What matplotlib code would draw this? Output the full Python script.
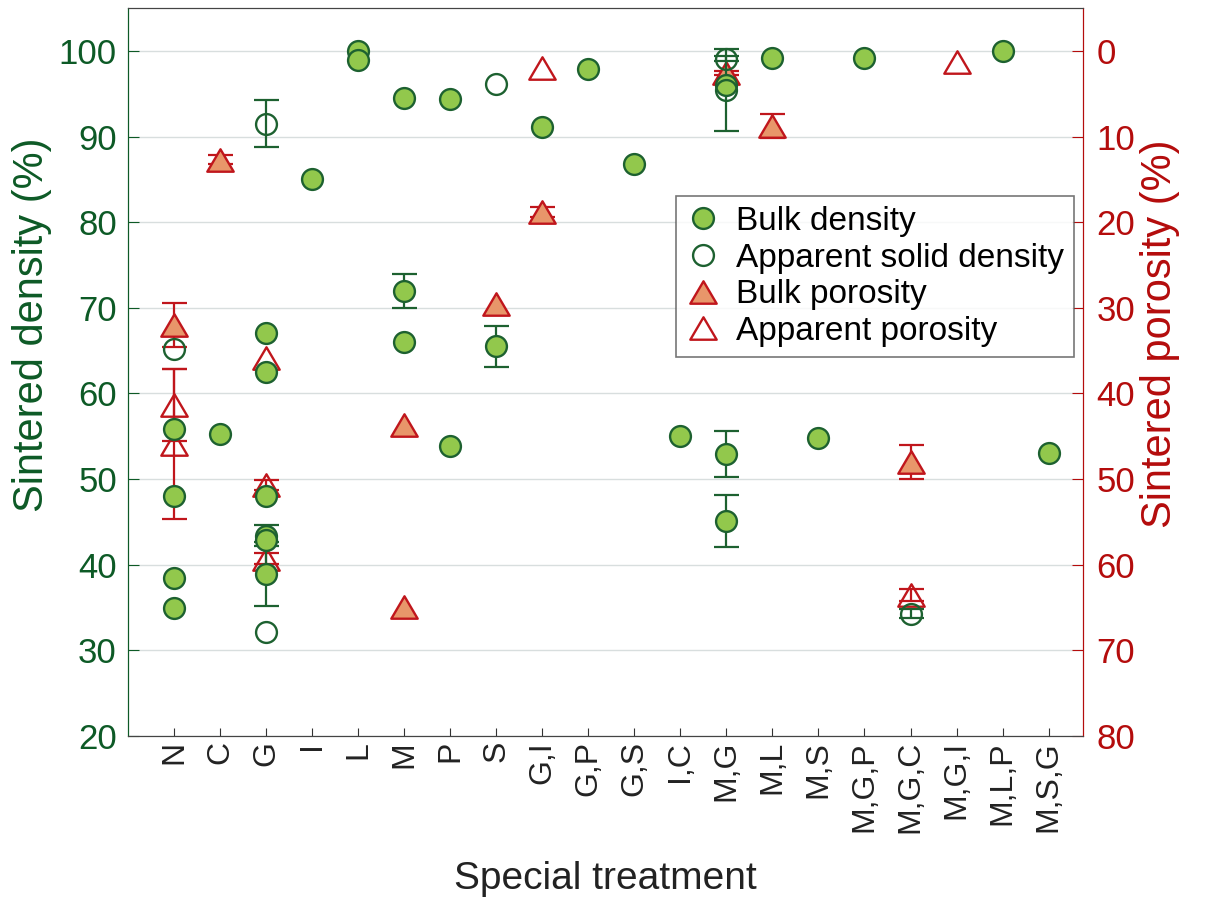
import numpy as np
import matplotlib
matplotlib.use("Agg")
import matplotlib.pyplot as plt
from matplotlib.path import Path

plt.rcParams["font.family"] = ["Liberation Sans", "DejaVu Sans"]

categories = ["N", "C", "G", "I", "L", "M", "P", "S", "G,I", "G,P", "G,S", "I,C",
              "M,G", "M,L", "M,S", "M,G,P", "M,G,C", "M,G,I", "M,L,P", "M,S,G"]

# bulk density (%), one entry per sample
bulk_dens_cat = ["N", "N", "N", "N", "C", "G", "G", "G", "G", "G", "G", "I", "L", "L",
                 "M", "M", "M", "P", "P", "S", "G,I", "G,P", "G,S", "I,C", "M,G", "M,G", "M,G",
                 "M,L", "M,S", "M,G,P", "M,L,P", "M,S,G"]
bulk_dens = [55.9, 48.0, 38.5, 35.0, 55.3, 67.1, 62.5, 48.0, 43.4, 42.9, 38.9, 85.0, 100.0, 99.0,
             94.5, 72.0, 66.0, 94.4, 53.9, 65.5, 91.1, 97.9, 86.8, 55.0, 96.0, 52.9, 45.1,
             99.2, 54.8, 99.2, 100.0, 53.0]
bulk_dens_err = [0, 0, 0, 0, 0, 0, 0, 0, 1.2, 0, 3.7, 0, 0, 0,
                 0, 2.0, 0, 0, 0, 2.4, 0, 0, 0, 0, 0, 2.7, 3.0,
                 0, 0, 0, 0, 0]

# apparent solid density (%)
app_dens_cat = ["N", "G", "G", "S", "M,G", "M,G", "M,G,C"]
app_dens = [65.2, 91.5, 32.2, 96.1, 99.1, 95.4, 34.3]
app_dens_err = [0, 2.75, 0, 0, 0.3, 4.8, 0.5]

# bulk porosity (%)
bulk_por_cat = ["N", "C", "M", "M", "S", "G,I", "M,G", "M,L", "M,G,C"]
bulk_por = [32.0, 12.7, 43.7, 64.9, 29.5, 18.8, 2.6, 8.8, 48.0]
bulk_por_err = [2.6, 0.55, 0, 0, 0, 0.6, 0.2, 1.4, 2.0]

# apparent porosity (%)
app_por_cat = ["N", "N", "G", "G", "G", "G,I", "M,G,C", "M,G,I"]
app_por = [41.3, 45.9, 35.9, 50.7, 59.3, 2.0, 63.5, 1.3]
app_por_err = [4.2, 8.75, 0, 0.6, 0.65, 0, 0.7, 0]

GREEN_TXT = "#0d5a26"
GREEN_EDGE = "#1d6130"
GREEN_FACE = "#92c84c"
RED_TXT = "#b40c0c"
RED_EDGE = "#c0161c"
ORANGE_FACE = "#e8966a"

pos = {c: i + 1 for i, c in enumerate(categories)}

# wide, slightly flat triangle
tri = Path([(0, 0.85), (-1, -0.85), (1, -0.85), (0, 0.85)],
           [Path.MOVETO, Path.LINETO, Path.LINETO, Path.CLOSEPOLY])


def draw(ax, cats, vals, errs, marker, ms, face, edge, label):
    x = np.array([pos[c] for c in cats], dtype=float)
    y = np.array(vals, dtype=float)
    e = np.array(errs, dtype=float)
    m = e > 0
    ax.errorbar(x[m], y[m], yerr=e[m], fmt="none", ecolor=edge, elinewidth=1.6,
                capsize=9, capthick=1.6, zorder=2)
    line, = ax.plot(x, y, ls="none", marker=marker, ms=ms, mfc=face, mec=edge,
                    mew=1.7, zorder=3, label=label)
    return line


fig = plt.figure(figsize=(12.07, 9.02), dpi=100)
ax = fig.add_axes([0.106, 0.184, 0.791, 0.807])
ax2 = ax.twinx()
ax.set_zorder(ax2.get_zorder() + 1)
ax.patch.set_visible(False)

h3 = draw(ax2, bulk_por_cat, bulk_por, bulk_por_err, tri, 19, ORANGE_FACE, RED_EDGE, "Bulk porosity")
h4 = draw(ax2, app_por_cat, app_por, app_por_err, tri, 19, "none", RED_EDGE, "Apparent porosity")
h1 = draw(ax, bulk_dens_cat, bulk_dens, bulk_dens_err, "o", 15, GREEN_FACE, GREEN_EDGE, "Bulk density")
h2 = draw(ax, app_dens_cat, app_dens, app_dens_err, "o", 15, "none", GREEN_EDGE, "Apparent solid density")

ax.set_xlim(0, 20.74)
ax.set_ylim(20, 105)
ax2.set_ylim(80, -5)
ax.set_yticks(np.arange(20, 101, 10))
ax2.set_yticks(np.arange(0, 81, 10))
ax.set_xticks(np.arange(1, len(categories) + 1))
ax.set_xticklabels(categories, rotation=90, fontsize=23, color="#222222")

ax2.grid(True, color="#d8dede", lw=1.0)
ax2.set_axisbelow(True)

ax.tick_params(axis="y", direction="in", length=8, colors=GREEN_TXT, labelsize=25, pad=8)
ax2.tick_params(axis="y", direction="in", length=8, colors=RED_TXT, labelsize=25, pad=10)
ax.tick_params(axis="x", direction="in", length=6, color="#333333")
ax2.tick_params(axis="x", direction="in", length=0)

for a in (ax, ax2):
    a.spines["left"].set_color(GREEN_TXT)
    a.spines["right"].set_color(RED_TXT)
    a.spines["top"].set_color("#444444")
    a.spines["bottom"].set_color("#444444")

ax.set_ylabel("Sintered density (%)", fontsize=30, color=GREEN_TXT)
ax.yaxis.set_label_coords(-0.08, 0.565)
ax2.set_ylabel("Sintered porosity (%)", fontsize=30, color=RED_TXT)
ax2.yaxis.set_label_coords(1.06, 0.553)
ax.set_xlabel("Special treatment", fontsize=28, color="#222222", labelpad=20)

leg = ax.legend(handles=[h1, h2, h3, h4], loc="upper left", bbox_to_anchor=(0.574, 0.742),
                fontsize=24, frameon=True, fancybox=False, edgecolor="#555555",
                handlelength=1.0, handletextpad=0.5, labelspacing=0.17, borderpad=0.3,
                borderaxespad=0)
leg.get_frame().set_linewidth(1.2)

fig.savefig("out.png", dpi=100)
